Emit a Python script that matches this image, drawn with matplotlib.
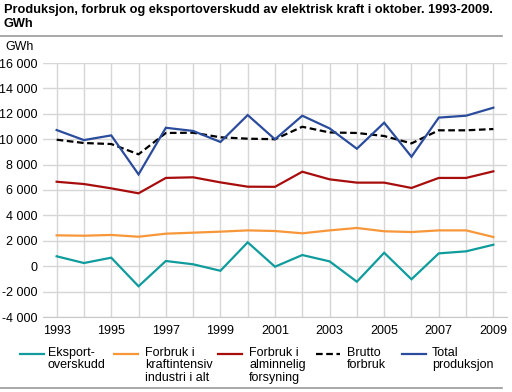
import matplotlib
matplotlib.use("Agg")
import matplotlib.pyplot as plt
from matplotlib.lines import Line2D

plt.rcParams['font.family'] = ['Liberation Sans', 'DejaVu Sans']

years = list(range(1993, 2010))
eksport = [780, 250, 670, -1580, 410, 150, -360, 1880, -40, 880, 380, -1220, 1060, -1030, 1010, 1170, 1690]
kraftintensiv = [2430, 2400, 2460, 2320, 2560, 2640, 2720, 2820, 2770, 2590, 2820, 3010, 2750, 2690, 2820, 2820, 2300]
alminnelig = [6650, 6470, 6130, 5740, 6950, 7000, 6600, 6260, 6250, 7440, 6840, 6580, 6580, 6160, 6950, 6950, 7470]
brutto = [9960, 9700, 9620, 8810, 10490, 10510, 10150, 10040, 10000, 10980, 10530, 10490, 10250, 9670, 10700, 10700, 10800]
total = [10720, 9930, 10300, 7230, 10900, 10650, 9780, 11900, 9990, 11850, 10850, 9250, 11300, 8620, 11700, 11850, 12480]

labels = ["Eksport-\noverskudd", "Forbruk i\nkraftintensiv\nindustri i alt",
          "Forbruk i\nalminnelig\nforsyning", "Brutto\nforbruk", "Total\nproduksjon"]
yticks = list(range(-4000, 16001, 2000))
xticks = list(range(1993, 2010, 2))

colors = ["#109c9c", "#f7973a", "#a80d0d", "#000000", "#2b4c9c"]
dash = (0, (3.0, 1.6))

fig = plt.figure(figsize=(5.12, 3.92), dpi=100)
ax = fig.add_axes([43/512, 1 - 317/392, (507-43)/512, (317-63)/392])

series = [eksport, kraftintensiv, alminnelig, brutto, total]
for s, c, lab in zip(series, colors, labels):
    ls = dash if c == "#000000" else '-'
    ax.plot(years, s, color=c, lw=1.6, ls=ls, label=lab, solid_joinstyle='miter')

ax.set_xlim(1992.5, 2009.5)
ax.set_ylim(-4000, 16000)
ax.set_yticks(yticks)
ax.set_yticklabels([f"{v:,}".replace(",", " ") for v in yticks])
ax.set_xticks(xticks)
ax.set_xticks(years, minor=True)
ax.grid(True, which='major', axis='y', color='#d6d6d6', lw=1)
ax.grid(True, which='both', axis='x', color='#d6d6d6', lw=1)
ax.set_axisbelow(True)
for sp in ['top', 'right', 'left']:
    ax.spines[sp].set_visible(False)
ax.spines['bottom'].set_color('#c8c8c8')
ax.tick_params(axis='both', which='both', length=0, labelsize=9, colors='#000000')
ax.tick_params(axis='y', pad=4)
ax.tick_params(axis='x', pad=6)

fig.text(4/512, 1 - 4/392, "Produksjon, forbruk og eksportoverskudd av elektrisk kraft i oktober. 1993-2009.\nGWh",
         fontsize=9.2, fontweight='bold', ha='left', va='top', linespacing=1.2)
fig.add_artist(Line2D([0, 502/512], [1 - 35.5/392, 1 - 35.5/392], color='#999999', lw=1.2))
fig.add_artist(Line2D([0, 502/512], [1 - 388/392, 1 - 388/392], color='#999999', lw=1.2))
fig.text(5/512, 1 - 47/392, "GWh", fontsize=9, ha='left', va='center')

# legend drawn manually (handles at first text line)
hx = [20, 114, 218, 316, 402]
tx = [48, 145, 249, 347, 432]
for x0, t0, c, lab in zip(hx, tx, colors, labels):
    ls = dash if c == "#000000" else '-'
    fig.add_artist(Line2D([x0/512, (x0+24)/512], [1 - 354/392, 1 - 354/392], color=c, lw=1.6, ls=ls))
    fig.text(t0/512, 1 - 347/392, lab, fontsize=9, ha='left', va='top', linespacing=1.05)

fig.savefig("out.png", dpi=100)
